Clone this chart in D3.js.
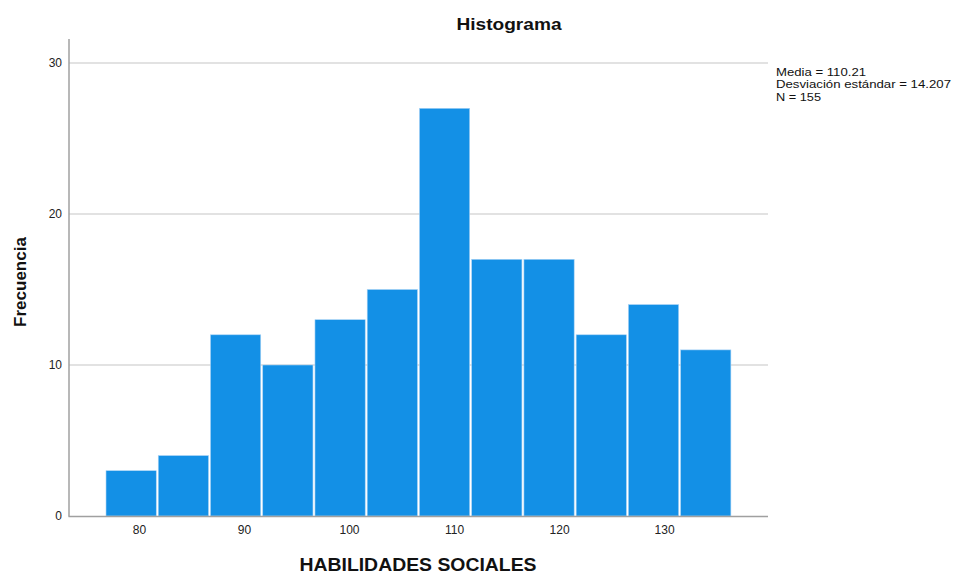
<!DOCTYPE html>
<html>
<head>
<meta charset="utf-8">
<script src="https://cdn.jsdelivr.net/npm/d3@7"></script>
<style>
body{margin:0;background:#fff;}
text{font-family:"Liberation Sans",Arial,sans-serif;}
</style>
</head>
<body>
<svg id="chart" width="953" height="574"></svg>
<script>
const binStart = 76.76;
const binWidth = 4.975;
const counts = [3, 4, 12, 10, 13, 15, 27, 17, 17, 12, 14, 11];
const xTicks = [80, 90, 100, 110, 120, 130];
const yTicks = [0, 10, 20, 30];
const statsLines = ["Media = 110.21", "Desviación estándar = 14.207", "N = 155"];
const titleText = "Histograma";
const xTitle = "HABILIDADES SOCIALES";
const yTitle = "Frecuencia";

const svg = d3.select("#chart");
const x = d3.scaleLinear().domain([73.33, 139.9]).range([69, 768]);
const y = d3.scaleLinear().domain([0, 30]).range([516, 63]);

const bins = counts.map((c, i) => ({x0: binStart + i * binWidth, x1: binStart + (i + 1) * binWidth, c}));

// gridlines
svg.append("g").selectAll("line").data(yTicks.filter(t => t > 0)).join("line")
  .attr("x1", 69).attr("x2", 768)
  .attr("y1", d => y(d)).attr("y2", d => y(d))
  .attr("stroke", "#d9d9d9").attr("stroke-width", 1.5);

// bars
svg.append("g").selectAll("rect").data(bins).join("rect")
  .attr("x", d => x(d.x0) + 1)
  .attr("width", d => x(d.x1) - x(d.x0) - 2)
  .attr("y", d => y(d.c))
  .attr("height", d => y(0) - y(d.c))
  .attr("fill", "#1390e6")
  .attr("stroke", "#a9d3f5").attr("stroke-width", 0.6);

// axes lines
svg.append("line").attr("x1", 69).attr("x2", 69).attr("y1", 39).attr("y2", 516.5)
  .attr("stroke", "#a0a0a0").attr("stroke-width", 1.5);
svg.append("line").attr("x1", 68.5).attr("x2", 768).attr("y1", 516.5).attr("y2", 516.5)
  .attr("stroke", "#a0a0a0").attr("stroke-width", 1.5);

// tick labels
const xAxis = d3.axisBottom(x).tickValues(xTicks).tickSize(0).tickPadding(8);
const gx = svg.append("g").attr("transform", "translate(0,517)").call(xAxis);
gx.select(".domain").remove();
gx.selectAll("text").attr("font-size", 12).attr("fill", "#222").attr("font-family", "Liberation Sans, Arial, sans-serif");

const yAxis = d3.axisLeft(y).tickValues(yTicks).tickSize(0).tickPadding(7);
const gy = svg.append("g").attr("transform", "translate(69,0)").call(yAxis);
gy.select(".domain").remove();
gy.selectAll("text").attr("font-size", 12).attr("fill", "#222").attr("font-family", "Liberation Sans, Arial, sans-serif");

// titles
svg.append("text").attr("x", 509).attr("y", 29.5).attr("text-anchor", "middle")
  .attr("font-size", 17).attr("font-weight", "bold").attr("fill", "#111")
  .attr("textLength", 105).attr("lengthAdjust", "spacingAndGlyphs").text(titleText);
svg.append("text").attr("x", 418).attr("y", 571).attr("text-anchor", "middle")
  .attr("font-size", 17.5).attr("font-weight", "bold").attr("fill", "#111")
  .attr("textLength", 237).attr("lengthAdjust", "spacingAndGlyphs").text(xTitle);
svg.append("text").attr("transform", "translate(26,282) rotate(-90)").attr("text-anchor", "middle")
  .attr("font-size", 17).attr("font-weight", "bold").attr("fill", "#111").text(yTitle);

// stats
const statsLen = [90, 175, 45];
svg.append("g").selectAll("text").data(statsLines).join("text")
  .attr("x", 776).attr("y", (d, i) => 75.5 + i * 12.5)
  .attr("font-size", 11.5).attr("fill", "#111")
  .attr("textLength", (d, i) => statsLen[i]).attr("lengthAdjust", "spacingAndGlyphs")
  .text(d => d);
</script>
</body>
</html>
